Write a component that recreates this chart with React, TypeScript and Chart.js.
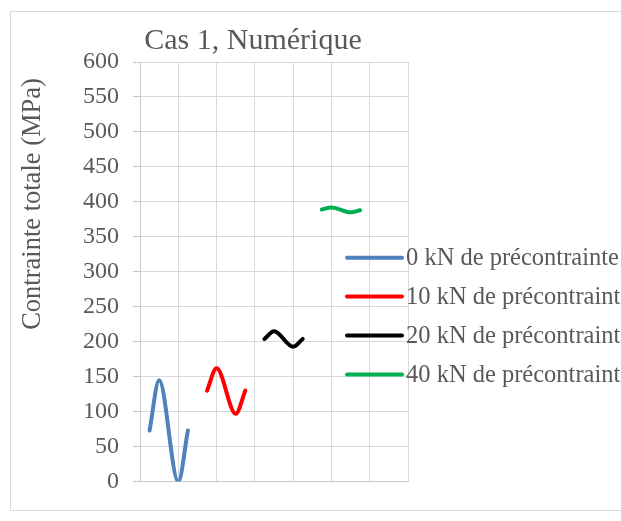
import React, { useEffect, useRef } from "react";
import { Chart, registerables } from "chart.js";

Chart.register(...registerables);

const FONT = '"Liberation Serif", "Times New Roman", serif';
const TEXT_COLOR = "#595959";

const CHART_TITLE = "Cas 1, Numérique";
const Y_TITLE = "Contrainte totale (MPa)";

const SERIES_LABELS = [
  "0 kN de précontrainte",
  "10 kN de précontrainte",
  "20 kN de précontrainte",
  "40 kN de précontrainte",
];
const SERIES_COLORS = ["#4f81bd", "#ff0000", "#000000", "#00b050"];

// x positions (category units) and stress values (MPa)
const X_0KN = [0.25, 0.5, 1.0, 1.25];
const Y_0KN = [73, 145, 0, 73];
const X_10KN = [1.75, 2.0, 2.5, 2.75];
const Y_10KN = [130, 162, 97, 130];
const X_20KN = [3.25, 3.5, 4.0, 4.25];
const Y_20KN = [204, 215, 193, 204];
const X_40KN = [4.75, 5.0, 5.5, 5.75];
const Y_40KN = [389, 392, 385, 388];

const X_MIN = 0;
const X_MAX = 7;
const Y_MIN = 0;
const Y_MAX = 600;
const Y_STEP = 50;

const SERIES_X = [X_0KN, X_10KN, X_20KN, X_40KN];
const SERIES_Y = [Y_0KN, Y_10KN, Y_20KN, Y_40KN];

const overlayPlugin = {
  id: "overlay",
  afterDraw(chart: any) {
    const ctx = chart.ctx;
    const area = chart.chartArea;
    ctx.save();
    // Title
    ctx.fillStyle = TEXT_COLOR;
    ctx.font = `30px ${FONT}`;
    ctx.textAlign = "center";
    ctx.textBaseline = "middle";
    ctx.fillText(CHART_TITLE, 242, 29);
    // Y axis title
    ctx.save();
    ctx.translate(22, 192);
    ctx.rotate(-Math.PI / 2);
    ctx.font = `26.5px ${FONT}`;
    ctx.fillText(Y_TITLE, 0, 0);
    ctx.restore();
    // Legend
    const x0 = area.right - 61;
    const yStart = 245.7;
    const gap = 38.9;
    chart.data.datasets.forEach((ds: any, i: number) => {
      const y = yStart + i * gap;
      ctx.strokeStyle = ds.borderColor;
      ctx.lineWidth = 4;
      ctx.lineCap = "round";
      ctx.beginPath();
      ctx.moveTo(x0, y);
      ctx.lineTo(x0 + 55, y);
      ctx.stroke();
      ctx.fillStyle = TEXT_COLOR;
      ctx.font = `24.5px ${FONT}`;
      ctx.textAlign = "left";
      ctx.textBaseline = "middle";
      ctx.fillText(ds.label, x0 + 59, y + 1);
    });
    ctx.restore();
  },
};

export default function App() {
  const canvasRef = useRef<HTMLCanvasElement | null>(null);

  useEffect(() => {
    document.documentElement.style.overflow = "hidden";
    document.body.style.overflow = "hidden";
    document.body.style.marginRight = "0px";
    document.body.style.width = "613px";
    const root = document.getElementById("root");
    if (root) root.style.width = "613px";
    const canvas = canvasRef.current;
    if (!canvas) return;
    const datasets = SERIES_LABELS.map((label, i) => ({
      label,
      data: SERIES_X[i].map((x, j) => ({ x, y: SERIES_Y[i][j] })),
      borderColor: SERIES_COLORS[i],
      backgroundColor: SERIES_COLORS[i],
      borderWidth: 4,
      showLine: true,
      pointRadius: 0,
      cubicInterpolationMode: "monotone",
      borderCapStyle: "round",
      borderJoinStyle: "round",
      fill: false,
    }));
    const chart = new Chart(canvas, {
      type: "scatter",
      data: { datasets: datasets as any },
      options: {
        responsive: false,
        animation: false,
        devicePixelRatio: 1,
        layout: { padding: { left: 0, right: 303, top: 50, bottom: 27 } },
        plugins: {
          legend: { display: false },
          title: { display: false },
          tooltip: { enabled: false },
        },
        scales: {
          x: {
            type: "linear",
            min: X_MIN,
            max: X_MAX,
            ticks: { display: false, stepSize: 1 },
            grid: { color: "#d9d9d9", lineWidth: 1, drawTicks: false },
            border: { color: "#c8c8c8", width: 1 },
            afterFit: (s: any) => {
              s.height = 0;
            },
          },
          y: {
            min: Y_MIN,
            max: Y_MAX,
            ticks: {
              stepSize: Y_STEP,
              color: TEXT_COLOR,
              font: { family: FONT, size: 24 },
              padding: 14,
            },
            grid: {
              color: "#d9d9d9",
              lineWidth: 1,
              tickLength: 7,
              tickColor: "#c8c8c8",
            },
            border: { color: "#c8c8c8", width: 1 },
            afterFit: (s: any) => {
              s.width = 129;
            },
          },
        },
      } as any,
      plugins: [overlayPlugin],
    });
    return () => chart.destroy();
  }, []);

  return (
    <div style={{ width: 613, height: 503, overflow: "hidden" }}>
      <div
        style={{
          marginLeft: 2,
          marginTop: 3,
          width: 700,
          height: 498,
          border: "1px solid #d9d9d9",
        }}
      >
        <canvas ref={canvasRef} width={700} height={498} style={{ display: "block" }} />
      </div>
    </div>
  );
}
